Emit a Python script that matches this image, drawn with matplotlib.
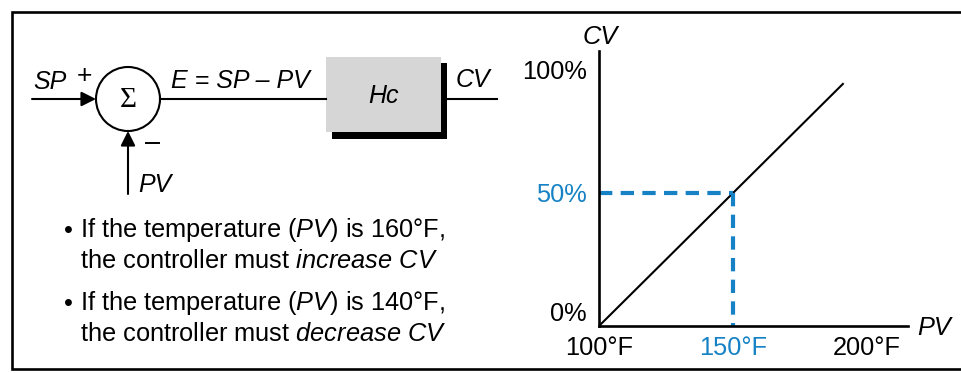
import matplotlib
matplotlib.use("Agg")
import matplotlib.pyplot as plt
from matplotlib.patches import Rectangle, Circle

plt.rcParams['font.family'] = ['Liberation Sans', 'DejaVu Sans']
plt.rcParams['mathtext.fontset'] = 'custom'
plt.rcParams['mathtext.rm'] = 'Liberation Sans'
plt.rcParams['mathtext.it'] = 'Liberation Sans:italic'

# Données du graphique (action directe)
pv_line = [100, 191]          # °F
cv_line = [0, 91]             # %
pv_set = 150
cv_set = 50
x_ticks = [100, 150, 200]
x_labels = ['100°F', '150°F', '200°F']
y_ticks = [0, 50, 100]
y_labels = ['0%', '50%', '100%']
bullets = [
    ("If the temperature ($\\mathit{PV}$) is 160°F,",
     "the controller must $\\mathit{increase\\ CV}$"),
    ("If the temperature ($\\mathit{PV}$) is 140°F,",
     "the controller must $\\mathit{decrease\\ CV}$"),
]

W, H = 961, 373
blue = '#1682C5'
fs = 18.3      # texte du graphique et des puces
fd = 18        # texte du schéma

fig = plt.figure(figsize=(W / 100, H / 100), dpi=100)

# Axe "pixels" pour le schéma bloc
dax = fig.add_axes([0, 0, 1, 1])
dax.set_xlim(0, W)
dax.set_ylim(H, 0)
dax.axis('off')

# Cadre
dax.add_patch(Rectangle((12, 12), 950, 357, fill=False, lw=1.9, ec='black'))

# Sommateur
dax.add_patch(Circle((128, 99), 32, fill=False, lw=1.5, ec='black'))
dax.text(128, 100, 'Σ', ha='center', va='center', fontsize=21,
         family='Liberation Serif')
arrow = dict(arrowstyle='-|>', lw=1.5, color='black',
             mutation_scale=22, shrinkA=0, shrinkB=0)
dax.annotate('', xy=(96, 99), xytext=(32, 99), arrowprops=arrow)
dax.annotate('', xy=(128, 131), xytext=(128, 194), arrowprops=arrow)
dax.text(33, 89, 'SP', style='italic', fontsize=fd, va='baseline')
dax.text(84, 76, '+', fontsize=19, ha='center', va='center')
dax.plot([146, 159], [143, 143], color='black', lw=1.4)   # signe moins
dax.text(138, 192, 'PV', style='italic', fontsize=fd, va='baseline')

# Ligne d'erreur et bloc Hc
dax.plot([160, 326], [99, 99], color='black', lw=1.5)
dax.text(171, 88, 'E = SP – PV', style='italic', fontsize=fd, va='baseline')
dax.add_patch(Rectangle((332, 63), 115, 76, fc='black', ec='none'))
dax.add_patch(Rectangle((326, 57), 115, 75, fc='#d6d6d6', ec='none'))
dax.text(383, 96, 'Hc', style='italic', fontsize=fd, ha='center', va='center')
dax.plot([447, 497], [99, 99], color='black', lw=1.5)
dax.text(456, 87, 'CV', style='italic', fontsize=fd, va='baseline')

# Puces
y0 = 237
for first, second in bullets:
    dax.text(68, y0 - 6, '•', fontsize=fs, ha='center', va='center')
    dax.text(80, y0, first, fontsize=fs, va='baseline')
    dax.text(80, y0 + 31, second, fontsize=fs, va='baseline')
    y0 += 73

# Graphique CV vs PV
left, right, top, bottom = 599, 908, 51, 326
ax = fig.add_axes([left / W, (H - bottom) / H, (right - left) / W,
                   (bottom - top) / H])
ax.patch.set_alpha(0)
ax.set_xlim(100, 100 + (right - left) / 134 * 50)
ax.set_ylim(0, (bottom - top) / 133 * 50)
for s in ['top', 'right']:
    ax.spines[s].set_visible(False)
for s in ['left', 'bottom']:
    ax.spines[s].set_linewidth(1.9)

ax.plot(pv_line, cv_line, color='black', lw=1.5)
ax.plot([100, pv_set], [cv_set, cv_set], color=blue, lw=3,
        dashes=(3.2, 2.0))
ax.plot([pv_set, pv_set], [cv_set, 0], color=blue, lw=3,
        dashes=(3.2, 2.0))

ax.set_xticks(x_ticks)
ax.set_xticklabels(x_labels, fontsize=fs)
ax.set_yticks(y_ticks)
ax.set_yticklabels(y_labels, fontsize=fs)
ax.tick_params(length=0)
ax.tick_params(axis='x', pad=7)
ax.tick_params(axis='y', pad=9)
ax.get_xticklabels()[1].set_color(blue)
ax.get_yticklabels()[1].set_color(blue)
ax.get_yticklabels()[0].set_va('bottom')
ax.get_yticklabels()[2].set_va('top')

dax.text(600, 37, 'CV', style='italic', fontsize=fs, ha='center', va='center')
dax.text(917, 335, 'PV', style='italic', fontsize=fs, va='baseline')

fig.savefig('out.png', dpi=100)
